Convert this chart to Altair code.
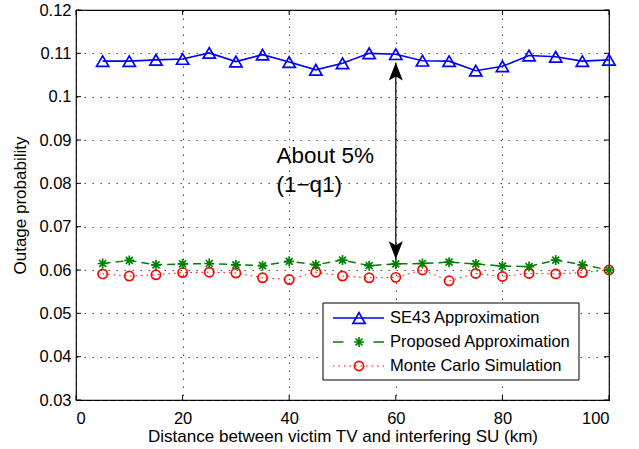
import altair as alt
import pandas as pd

# ---------------- data ----------------
distance_km = [5, 10, 15, 20, 25, 30, 35, 40, 45, 50, 55, 60, 65, 70, 75, 80, 85, 90, 95, 100]
se43 = [0.1082, 0.1082, 0.1085, 0.1087, 0.1101, 0.1081, 0.1097, 0.1080, 0.1062, 0.1077,
        0.1100, 0.1098, 0.1083, 0.1082, 0.1060, 0.1070, 0.1095, 0.1092, 0.1082, 0.1085]
proposed = [0.0615, 0.0622, 0.0612, 0.0614, 0.0615, 0.0612, 0.0610, 0.0620, 0.0612, 0.0623,
            0.0610, 0.0614, 0.0615, 0.0618, 0.0614, 0.0609, 0.0608, 0.0623, 0.0612, 0.0600]
monte_carlo = [0.0591, 0.0586, 0.0589, 0.0594, 0.0595, 0.0593, 0.0582, 0.0578, 0.0595, 0.0586,
               0.0582, 0.0583, 0.0600, 0.0575, 0.0592, 0.0585, 0.0592, 0.0591, 0.0594, 0.0600]
series_names = ["SE43 Approximation", "Proposed Approximation", "Monte Carlo Simulation"]
x_ticks = [0, 20, 40, 60, 80, 100]
y_ticks = [0.03, 0.04, 0.05, 0.06, 0.07, 0.08, 0.09, 0.10, 0.11, 0.12]
annot_text = ["About 5%", "(1\u2212q1)"]
annot_x = [37.6, 37.6]
annot_y = [0.0847, 0.0779]
arrow_x = [60]
arrow_top = [0.1079]
arrow_bottom = [0.0625]

FONT = "Liberation Sans"
W, H = 533, 390
BLUE, GREEN, RED = "#0000FF", "#008000", "#FF0000"

xs = alt.Scale(domain=[0, 100], nice=False, zero=False)
ys = alt.Scale(domain=[0.03, 0.12], nice=False, zero=False)

df = pd.DataFrame({"x": distance_km, "se43": se43, "prop": proposed, "mc": monte_carlo})

x_axis = alt.Axis(values=x_ticks, title="Distance between victim TV and interfering SU (km)",
                  grid=True, ticks=False, domain=False, labelPadding=10,
                  titleY=41, titleBaseline="alphabetic")
y_axis = alt.Axis(values=y_ticks, format=".2~f", title="Outage probability",
                  grid=True, ticks=False, domain=False, labelPadding=5,
                  titleX=-56, titleY=H / 2, titleAngle=-90, titleAlign="center",
                  titleBaseline="middle")


def X(field="x"):
    return alt.X(f"{field}:Q", scale=xs, axis=x_axis)


def Y(field):
    return alt.Y(f"{field}:Q", scale=ys, axis=y_axis)


base = alt.Chart(df)

blue_line = base.mark_line(color=BLUE, strokeWidth=1.6).encode(x=X(), y=Y("se43"))
blue_pts = base.mark_point(shape="triangle-up", size=150, color=BLUE, strokeWidth=1.7,
                           filled=False, opacity=1).encode(x=X(), y=Y("se43"))

ASTER = "M-1,0L1,0M0,-1L0,1M-0.7,-0.7L0.7,0.7M-0.7,0.7L0.7,-0.7"
green_line = base.mark_line(color=GREEN, strokeWidth=1.5, strokeDash=[8, 5]).encode(x=X(), y=Y("prop"))
green_pts = base.mark_point(shape=ASTER, size=100, color=GREEN, strokeWidth=1.7,
                            filled=False, opacity=1).encode(x=X(), y=Y("prop"))

red_line = base.mark_line(color=RED, strokeWidth=1, strokeDash=[1.5, 4]).encode(x=X(), y=Y("mc"))
red_pts = base.mark_point(shape="circle", size=85, color=RED, strokeWidth=1.7,
                          filled=False, opacity=1).encode(x=X(), y=Y("mc"))

# Inward ticks on all four sides
xt = alt.Chart(pd.DataFrame({"x": x_ticks}))
yt = alt.Chart(pd.DataFrame({"y": y_ticks}))
tick_layers = [
    xt.mark_rule(color="black", strokeWidth=1).encode(x=X(), y=alt.value(H), y2=alt.value(H - 5)),
    xt.mark_rule(color="black", strokeWidth=1).encode(x=X(), y=alt.value(0), y2=alt.value(5)),
    yt.mark_rule(color="black", strokeWidth=1).encode(y=Y("y"), x=alt.value(0), x2=alt.value(5)),
    yt.mark_rule(color="black", strokeWidth=1).encode(y=Y("y"), x=alt.value(W), x2=alt.value(W - 5)),
]

# Annotation: double arrow + text
arr_df = pd.DataFrame({"x": arrow_x, "top": arrow_top, "bot": arrow_bottom})
arr = alt.Chart(arr_df)
HEAD_UP = "M0,-1L0.78,1L0,0.55L-0.78,1Z"
HEAD_DN = "M0,1L0.78,-1L0,-0.55L-0.78,-1Z"
arrow_layers = [
    arr.mark_rule(color="black", strokeWidth=1.2).encode(x=X(), y=Y("top"), y2="bot:Q"),
    arr.mark_point(shape=HEAD_UP, size=324, filled=True, color="black", opacity=1,
                   yOffset=9).encode(x=X(), y=Y("top")),
    arr.mark_point(shape=HEAD_DN, size=324, filled=True, color="black", opacity=1,
                   yOffset=-9).encode(x=X(), y=Y("bot")),
]
txt_df = pd.DataFrame({"x": annot_x, "y": annot_y, "t": annot_text})
annot = alt.Chart(txt_df).mark_text(align="left", baseline="alphabetic", fontSize=22.5,
                                    font=FONT, color="black").encode(
    x=X(), y=Y("y"), text="t:N")

# Custom legend
LX0, LX1, LY0, LY1 = 247, 503, 293, 370
rows = [308, 332, 356]
leg_layers = [
    alt.Chart(pd.DataFrame({"n": [0]})).mark_rect(fill="white", stroke="black", strokeWidth=1).encode(
        x=alt.value(LX0), x2=alt.value(LX1), y=alt.value(LY0), y2=alt.value(LY1))
]
styles = [
    (BLUE, 1.6, None, "triangle-up", 150),
    (GREEN, 1.5, [10.5, 30], ASTER, 100),
    (RED, 1, [1.5, 4], "circle", 85),
]
for name, ry, (col, sw, dash, shp, sz) in zip(series_names, rows, styles):
    d = alt.Chart(pd.DataFrame({"name": [name]}))
    rule_kw = dict(color=col, strokeWidth=sw)
    if dash is not None:
        rule_kw["strokeDash"] = dash
    leg_layers.append(d.mark_rule(**rule_kw).encode(
        x=alt.value(257), x2=alt.value(308), y=alt.value(ry)))
    leg_layers.append(d.mark_point(shape=shp, size=sz, color=col, strokeWidth=1.7,
                                   filled=False, opacity=1).encode(
        x=alt.value(283), y=alt.value(ry)))
    leg_layers.append(d.mark_text(align="left", baseline="middle", fontSize=16.5, font=FONT,
                                  color="black").encode(
        x=alt.value(314), y=alt.value(ry), text="name:N"))

chart = alt.layer(
    blue_line, *tick_layers,
    red_line, green_line,
    red_pts, green_pts, blue_pts,
    *arrow_layers, annot,
    *leg_layers,
).properties(
    width=W, height=H,
    autosize=alt.AutoSizeParams(type="none"),
    padding={"left": 76, "top": 10, "right": 30, "bottom": 49},
    background="white",
).configure_view(
    stroke="black", strokeWidth=1.2
).configure_axis(
    labelFont=FONT, titleFont=FONT, labelFontSize=16.5, titleFontSize=17,
    labelColor="black", titleColor="black", titleFontWeight="normal",
    gridColor="#333333", gridDash=[1.5, 6.5], gridWidth=1, gridOpacity=0.9,
)

chart.save("out.html", embed_options={"renderer": "svg", "actions": False})
